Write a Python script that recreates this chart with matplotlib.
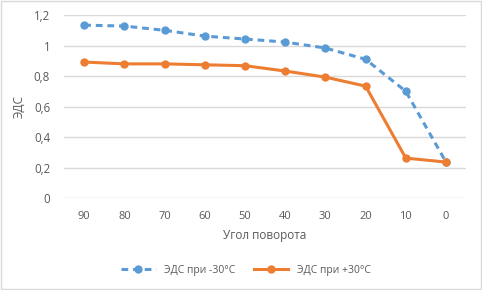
import matplotlib.pyplot as plt
import numpy as np

angles = ['90', '80', '70', '60', '50', '40', '30', '20', '10', '0']
emf_minus30 = [1.134, 1.128, 1.10, 1.062, 1.043, 1.023, 0.984, 0.91, 0.70, 0.236]
emf_plus30 = [0.892, 0.88, 0.88, 0.874, 0.868, 0.833, 0.793, 0.734, 0.262, 0.236]
yticks = [0, 0.2, 0.4, 0.6, 0.8, 1.0, 1.2]
ytick_labels = ['0', '0,2', '0,4', '0,6', '0,8', '1', '1,2']

plt.rcParams['font.family'] = ['Open Sans', 'DejaVu Sans']
grey = '#595959'

fig = plt.figure(figsize=(4.82, 2.9), dpi=100)
ax = fig.add_axes([0.133, 0.317, 0.834, 0.631])

x = np.arange(len(angles))
ax.plot(x, emf_minus30, color='#5B9BD5', lw=2.2, ls=(0, (2.2, 1.6)),
        marker='o', ms=5, label='ЭДС при -30°C', zorder=3)
ax.plot(x, emf_plus30, color='#ED7D31', lw=2.2,
        marker='o', ms=5, label='ЭДС при +30°C', zorder=3)

ax.set_xlim(-0.5, len(angles) - 0.5)
ax.set_ylim(0, 1.2)
ax.set_xticks(x)
ax.set_xticklabels(angles)
ax.set_yticks(yticks)
ax.set_yticklabels(ytick_labels)
ax.grid(axis='y', color='#d9d9d9', lw=1)
ax.set_axisbelow(True)
for s in ax.spines.values():
    s.set_visible(False)
ax.tick_params(length=0, colors=grey, labelsize=8, pad=9)
ax.tick_params(axis='y', pad=10, labelsize=8.3)

ax.set_xlabel('Угол поворота', color=grey, fontsize=8.5, labelpad=5)
ax.set_ylabel('ЭДС', color=grey, fontsize=8.5, labelpad=6)

leg = fig.legend(loc='center', bbox_to_anchor=(0.51, 0.068), ncol=2, frameon=False,
                 fontsize=7.5, handlelength=3.3, columnspacing=1.8)
for t in leg.get_texts():
    t.set_color(grey)

fig.patches.append(plt.Rectangle((0.002, 0.003), 0.995, 0.994, transform=fig.transFigure,
                                 fill=False, edgecolor='#d9d9d9', lw=1))

fig.savefig('out.png', dpi=100)
